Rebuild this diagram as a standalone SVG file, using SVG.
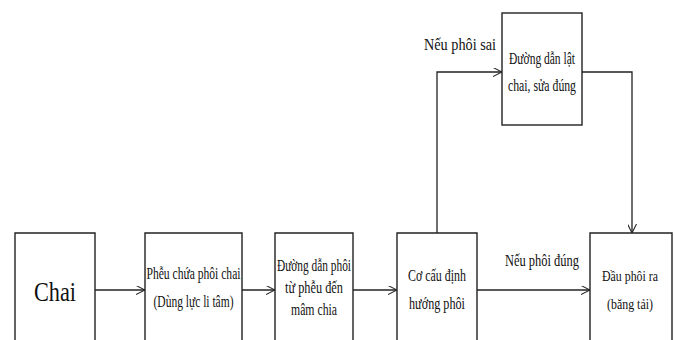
<svg xmlns="http://www.w3.org/2000/svg" width="675" height="340" viewBox="0 0 675 340">
<defs>
<style>
.box{fill:#fff;stroke:#222;stroke-width:1.4}
.ln{fill:none;stroke:#222;stroke-width:1.3}
.t{font-family:"Liberation Serif","DejaVu Serif",serif;font-size:16px;fill:#111;text-anchor:middle}
.sm{font-size:15px}
.big{font-size:28px}
</style>
<marker id="ah" viewBox="0 0 10 10" refX="10" refY="5" markerWidth="9" markerHeight="9" orient="auto" markerUnits="userSpaceOnUse">
<path d="M0,0 L10,5 L0,10" fill="none" stroke="#222" stroke-width="1.2"/>
</marker>
</defs>
<rect width="675" height="340" fill="#fff"/>
<g id="connectors">
<line class="ln" x1="95" y1="290" x2="145" y2="290" marker-end="url(#ah)"/>
<line class="ln" x1="242" y1="290" x2="275" y2="290" marker-end="url(#ah)"/>
<line class="ln" x1="353" y1="290" x2="397" y2="290" marker-end="url(#ah)"/>
<line class="ln" x1="477" y1="290" x2="590" y2="290" marker-end="url(#ah)"/>
<polyline class="ln" points="437,233 437,72 502,72" marker-end="url(#ah)"/>
<polyline class="ln" points="582,72 632,72 632,233" marker-end="url(#ah)"/>
<text class="t" x="460" y="50" textLength="72" lengthAdjust="spacingAndGlyphs">Nếu phôi sai</text>
<text class="t" x="542" y="266" textLength="74" lengthAdjust="spacingAndGlyphs">Nếu phôi đúng</text>
</g>
<g id="chai">
<path class="box" d="M15,340 V233 H95 V340"/>
<text class="t big" x="55" y="301" textLength="42" lengthAdjust="spacingAndGlyphs">Chai</text>
</g>
<g id="pheu">
<path class="box" d="M145,340 V233 H242 V340"/>
<text class="t" x="193.5" y="279" textLength="94" lengthAdjust="spacingAndGlyphs">Phễu chứa phôi chai</text>
<text class="t" x="193.5" y="307" textLength="80" lengthAdjust="spacingAndGlyphs">(Dùng lực li tâm)</text>
</g>
<g id="duongdan">
<path class="box" d="M275,340 V233 H353 V340"/>
<text class="t" x="314" y="271" textLength="74" lengthAdjust="spacingAndGlyphs">Đường dẫn phôi</text>
<text class="t" x="314" y="293" textLength="58" lengthAdjust="spacingAndGlyphs">từ phễu đến</text>
<text class="t" x="314" y="315" textLength="46" lengthAdjust="spacingAndGlyphs">mâm chia</text>
</g>
<g id="cocau">
<path class="box" d="M397,340 V233 H477 V340"/>
<text class="t" x="437" y="281" textLength="58" lengthAdjust="spacingAndGlyphs">Cơ cấu định</text>
<text class="t" x="437" y="309" textLength="56" lengthAdjust="spacingAndGlyphs">hướng phôi</text>
</g>
<g id="daura">
<path class="box" d="M590,340 V233 H672 V340"/>
<text class="t sm" x="630" y="281" textLength="56" lengthAdjust="spacingAndGlyphs">Đầu phôi ra</text>
<text class="t sm" x="630" y="309" textLength="46" lengthAdjust="spacingAndGlyphs">(băng tải)</text>
</g>
<g id="lat">
<rect class="box" x="502" y="13" width="80" height="112"/>
<text class="t" x="542" y="64" textLength="66" lengthAdjust="spacingAndGlyphs">Đường dẫn lật</text>
<text class="t" x="542" y="91" textLength="68" lengthAdjust="spacingAndGlyphs">chai, sửa đúng</text>
</g>
</svg>
